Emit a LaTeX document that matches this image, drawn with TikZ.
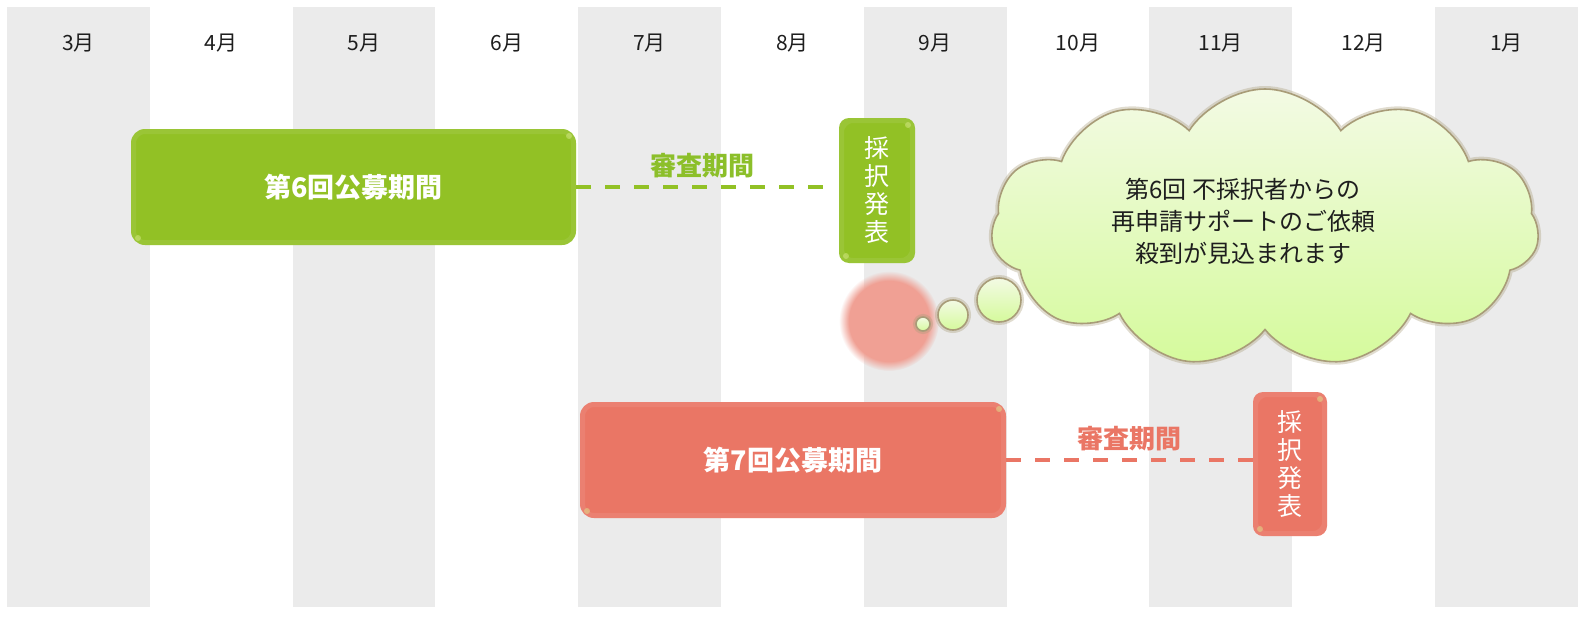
\documentclass[tikz,border=0pt]{standalone}
\usepackage{fontspec}
\setmainfont{Noto Sans CJK JP}
\usetikzlibrary{shapes.symbols,fadings}
\definecolor{colgray}{HTML}{EBEBEB}
\definecolor{grn}{HTML}{92C125}
\definecolor{grnlbl}{HTML}{8CBF2A}
\definecolor{redc}{HTML}{EA7665}
\definecolor{pinkc}{HTML}{F0A094}
\definecolor{cloudtop}{HTML}{F3FAE4}
\definecolor{cloudbot}{HTML}{D5FA9C}
\definecolor{cloudedge}{HTML}{A89C78}
\definecolor{txt}{HTML}{1E1E1E}
\tikzset{
  month/.style={font=\fontsize{21}{24}\selectfont, text=txt},
  period/.style={rounded corners=14pt, inner sep=0pt, text=white,
    font=\fontsize{27}{32}\selectfont\bfseries,
    path picture={
      \draw[white, opacity=.08, line width=10pt, rounded corners=14pt]
        (path picture bounding box.south west) rectangle (path picture bounding box.north east);
      \fill[yellow!70!green!45!white, opacity=.45]
        ([xshift=-7pt,yshift=-7pt]path picture bounding box.north east) circle (3pt);
      \fill[yellow!70!green!45!white, opacity=.45]
        ([xshift=7pt,yshift=7pt]path picture bounding box.south west) circle (3pt);
    }},
  announce/.style={period, rounded corners=10pt, align=center,
    font=\fontsize{25}{28}\selectfont},
  review/.style={line width=3.5pt, dash pattern=on 15pt off 14pt},
  reviewlbl/.style={font=\fontsize{26}{30}\selectfont\bfseries},
  cloudstyle/.style={draw=cloudedge, line width=1.6pt, top color=cloudtop, bottom color=cloudbot,
    preaction={draw=cloudedge, line width=6pt, draw opacity=.35}},
}
\begin{document}
\begin{tikzpicture}[x=1pt,y=-1pt]
\useasboundingbox (0,0) rectangle (1585,616);
\fill[white] (0,0) rectangle (1585,616);
% month columns
\foreach \i in {0,2,4,6,8,10}
  \fill[colgray] ({7+142.8*\i},7) rectangle ({7+142.8*(\i+1)},607);
\foreach \m [count=\i from 0] in {3,4,5,6,7,8,9,10,11,12,1}
  \node[month] (m\i) at ({7+142.8*(\i+0.5)},43) {\m 月};

% round 6
\node[period, fill=grn, minimum width=445pt, minimum height=116pt] (b6) at (353.5,187) {第6回公募期間};
\node[announce, fill=grn, minimum width=76pt, minimum height=145pt] (r6) at (877,190.5) {採\\択\\発\\表};
\coordinate (e6) at ([xshift=-10pt]r6.west |- b6.east);
\draw[review, grn] (b6.east) -- (e6) node[midway, yshift=21pt, reviewlbl, text=grnlbl] (l6) {審査期間};

% pink blurred circle
\fill[pinkc, path fading=circle with fuzzy edge 20 percent] (889,321) circle (50pt);

% thought cloud
\node[cloud, cloud puffs=11, cloud puff arc=115, aspect=2, minimum width=548pt, minimum height=278pt, cloudstyle] (cl) at (1265,228) {};
\node[circle, cloudstyle, minimum size=14pt, inner sep=0pt] (c1) at (923,324) {};
\node[circle, cloudstyle, minimum size=30pt, inner sep=0pt] (c2) at (953,315) {};
\node[circle, cloudstyle, minimum size=44pt, inner sep=0pt] (c3) at (999,300) {};
\node[align=center, text=txt, font=\fontsize{24}{32}\selectfont] (msg) at (1243,221) {第6回 不採択者からの\\再申請サポートのご依頼\\殺到が見込まれます};

% round 7
\node[period, fill=redc, minimum width=426pt, minimum height=116pt] (b7) at (793,460) {第7回公募期間};
\node[announce, fill=redc, minimum width=74pt, minimum height=144pt] (r7) at (1290,464) {採\\択\\発\\表};
\coordinate (e7) at (r7.west |- b7.east);
\draw[review, redc] (b7.east) -- (e7) node[midway, yshift=21pt, reviewlbl, text=redc] (l7) {審査期間};
\end{tikzpicture}
\end{document}
